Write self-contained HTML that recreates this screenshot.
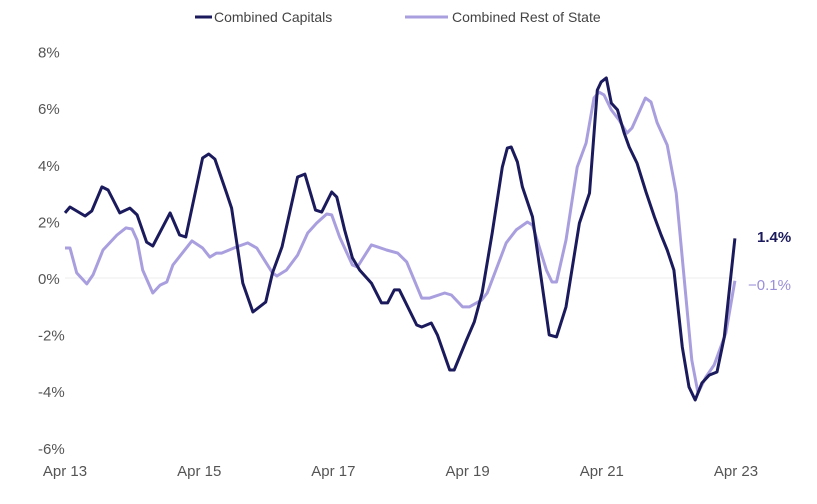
<!DOCTYPE html>
<html><head><meta charset="utf-8"><style>
body{margin:0;background:#fff;}
svg text{font-family:"Liberation Sans",sans-serif;}
</style></head><body>
<svg id="chart" width="817" height="499" viewBox="0 0 817 499">
<g>
 <line x1="195" y1="17" x2="212" y2="17" stroke="#1b1a5c" stroke-width="3"/>
 <text x="214" y="22" font-size="14" fill="#444">Combined Capitals</text>
 <line x1="405" y1="17" x2="448" y2="17" stroke="#a99fdf" stroke-width="3"/>
 <text x="452" y="22" font-size="14" fill="#444">Combined Rest of State</text>
</g>
<g id="yaxis"></g>
<g id="xaxis"></g>
<line id="zero" stroke="#ececec" stroke-width="1"/>
<g id="series"></g>
<text x="757" y="242" font-size="15" font-weight="bold" fill="#1b1a5c">1.4%</text>
<text x="748" y="290" font-size="15" fill="#9a8fd8">−0.1%</text>
</svg>
<script>
const yTicks=[8,6,4,2,0,-2,-4,-6];
const yTickLabels=["8%","6%","4%","2%","0%","-2%","-4%","-6%"];
const xTicks=[0,24,48,72,96,120];
const xTickLabels=["Apr 13","Apr 15","Apr 17","Apr 19","Apr 21","Apr 23"];
const capMonths=[0,0.9,3.6,4.8,6.6,7.7,9.8,11.6,12.9,14.6,15.7,18.8,20.5,21.6,24.6,25.7,26.8,28.9,29.8,31.8,33.6,35.9,37.1,38.8,41.6,42.9,44.8,45.9,47.7,48.6,50,51.4,52.7,54.8,56.6,57.7,58.9,59.8,62.9,63.8,65.5,66.6,68.8,69.6,71.8,73.2,74.6,76.4,78.2,79.1,79.8,80.9,81.8,83.6,86.6,87.9,89.6,92,93.8,95.2,95.9,96.8,97.7,98.8,100,100.9,102.3,103.9,105.4,106.6,107.7,108.9,110.4,111.6,112.7,113.9,115.2,116.6,117.9,119.8];
const capValues=[2.30,2.51,2.19,2.37,3.22,3.11,2.30,2.47,2.23,1.27,1.13,2.30,1.52,1.45,4.24,4.38,4.20,3.00,2.47,-0.18,-1.20,-0.85,0.18,1.10,3.57,3.67,2.40,2.33,3.04,2.86,1.70,0.71,0.28,-0.18,-0.88,-0.88,-0.42,-0.42,-1.66,-1.73,-1.59,-2.01,-3.25,-3.25,-2.19,-1.55,-0.53,1.59,3.92,4.59,4.63,4.10,3.22,2.16,-2.01,-2.08,-1.02,1.94,3.00,6.64,6.93,7.07,6.18,5.94,5.12,4.63,4.06,3.04,2.16,1.52,0.99,0.28,-2.44,-3.85,-4.31,-3.71,-3.43,-3.32,-2.08,1.4];
const restMonths=[0,0.9,2.1,3.9,5,6.8,9.3,10.9,12,12.9,13.9,15.7,17,18.2,19.3,22.7,24.6,25.9,27.1,28,30.7,32.7,34.3,37.1,37.9,39.6,41.6,43.4,45,46.8,47.7,49.1,51.4,52.3,54.8,55.9,57.5,59.5,61.1,63.8,65.2,67.9,69.1,71.1,72.3,74.5,75.5,78.9,80.7,82.7,83.6,86.1,87.1,87.9,89.6,91.6,93.2,94.6,95.5,96.4,97.7,99.1,100.5,101.4,103.8,104.8,105.9,107.7,109.3,111.1,112.1,113.2,114.6,116.1,118.2,119.8];
const restValues=[1.06,1.06,0.18,-0.21,0.11,0.99,1.52,1.77,1.73,1.34,0.28,-0.53,-0.25,-0.14,0.46,1.31,1.06,0.74,0.88,0.88,1.10,1.24,1.06,0.18,0.07,0.28,0.81,1.59,1.94,2.26,2.23,1.45,0.46,0.39,1.17,1.10,0.99,0.88,0.57,-0.71,-0.71,-0.53,-0.60,-1.02,-1.02,-0.78,-0.53,1.24,1.70,1.98,1.87,0.28,-0.14,-0.14,1.34,3.92,4.77,6.36,6.57,6.47,5.94,5.58,5.12,5.30,6.36,6.22,5.48,4.70,3.00,-0.78,-2.90,-4.06,-3.50,-3.07,-1.94,-0.1];
const NS="http://www.w3.org/2000/svg";
function xs(m){return 65+m*(671/120);}
function ys(v){return 278-v*28.3;}
const yA=document.getElementById('yaxis');
yTicks.forEach((t,i)=>{const e=document.createElementNS(NS,'text');e.setAttribute('x',38);e.setAttribute('y',ys(t)+6);e.setAttribute('font-size','15');e.setAttribute('fill','#555');e.textContent=yTickLabels[i];


yA.appendChild(e);});
const xA=document.getElementById('xaxis');
xTicks.forEach((t,i)=>{const e=document.createElementNS(NS,'text');e.setAttribute('x',xs(t));e.setAttribute('y',476);e.setAttribute('text-anchor','middle');e.setAttribute('font-size','15');e.setAttribute('fill','#555');e.textContent=xTickLabels[i];


xA.appendChild(e);});
const z=document.getElementById('zero');z.setAttribute('x1',xs(0));z.setAttribute('x2',xs(120));z.setAttribute('y1',ys(0));z.setAttribute('y2',ys(0));
const g=document.getElementById('series');
function line(ms,vs,color,name){const p=document.createElementNS(NS,'polyline');p.setAttribute('points',ms.map((m,i)=>xs(m).toFixed(1)+','+ys(vs[i]).toFixed(1)).join(' '));p.setAttribute('fill','none');p.setAttribute('stroke',color);p.setAttribute('stroke-width','3');p.setAttribute('stroke-linejoin','round');


g.appendChild(p);}
line(restMonths,restValues,'#a99fdf','rest-of-state-line');
line(capMonths,capValues,'#1b1a5c','capitals-line');
</script>
</body></html>
